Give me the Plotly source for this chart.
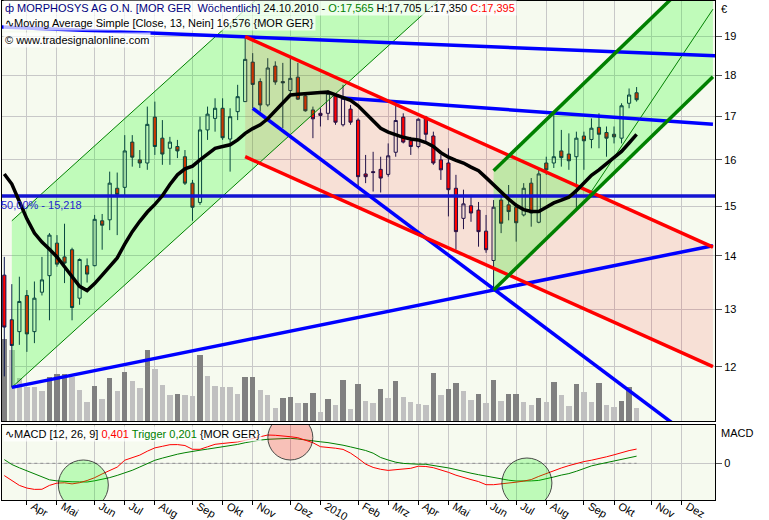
import math
import pandas as pd
import plotly.graph_objects as go

# ---------------- data ----------------
bar_dates = pd.date_range("2009-03-15", periods=85, freq="W-SUN")

opens = [13.63, 12.81, 12.60, 13.25, 12.60, 13.31, 13.62, 14.25, 13.98, 14.12,
         13.20, 13.81, 13.81, 14.70, 14.72, 15.38, 15.40, 16.40, 16.00, 15.93,
         16.98, 16.49, 16.26, 16.30, 16.07, 15.49, 15.08, 16.68, 16.95, 17.19,
         16.47, 17.11, 17.35, 18.33, 17.84, 17.27, 18.23, 17.84, 17.62, 17.95,
         17.49, 17.15, 17.07, 17.07, 17.51, 16.80, 17.17, 16.91, 15.69, 15.74,
         15.79, 15.68, 16.17, 16.98, 16.43, 16.30, 16.98, 16.54, 16.00, 15.93,
         15.38, 14.75, 15.01, 14.92, 14.49, 13.91, 15.13, 15.03, 14.98, 14.82,
         15.49, 14.67, 15.93, 15.93, 16.20, 16.13, 16.07, 16.54, 16.46, 16.74,
         16.62, 16.58, 16.49, 17.31, 17.565]
highs = [13.98, 13.46, 13.60, 13.35, 13.51, 13.98, 14.45, 14.41, 14.64, 14.16,
         13.95, 13.95, 14.82, 14.84, 15.74, 15.72, 16.56, 16.56, 16.22, 17.23,
         17.35, 16.91, 16.52, 16.45, 16.22, 15.56, 16.99, 17.23, 17.43, 17.43,
         17.19, 17.76, 18.99, 18.56, 17.92, 18.43, 18.35, 18.31, 18.43, 18.31,
         17.55, 17.23, 17.19, 17.63, 17.55, 17.76, 17.27, 16.95, 16.11, 16.18,
         16.07, 16.37, 17.27, 17.07, 16.52, 16.95, 17.01, 16.64, 16.11, 16.26,
         15.67, 15.35, 15.24, 15.09, 14.82, 15.13, 15.20, 15.45, 15.07, 15.49,
         15.60, 15.82, 16.07, 17.07, 16.68, 16.60, 16.64, 16.64, 16.95, 17.07,
         16.76, 16.76, 17.31, 17.67, 17.705]
lows = [11.84, 11.66, 12.37, 12.25, 12.40, 13.25, 12.80, 13.79, 13.48, 12.80,
        13.08, 13.49, 13.80, 14.12, 14.51, 14.41, 15.20, 15.85, 15.82, 15.78,
        16.11, 15.89, 15.89, 16.04, 15.45, 14.70, 15.03, 16.45, 16.64, 16.45,
        15.74, 16.91, 17.34, 17.19, 17.11, 17.23, 17.76, 16.72, 17.51, 17.39,
        17.11, 16.49, 16.76, 16.91, 16.80, 16.76, 16.80, 15.41, 15.49, 15.31,
        15.29, 15.63, 16.07, 16.37, 16.11, 16.26, 16.41, 15.89, 15.56, 14.79,
        14.12, 14.53, 14.68, 14.18, 14.06, 13.35, 14.45, 14.71, 14.28, 14.79,
        14.58, 14.65, 15.67, 15.82, 15.85, 15.78, 14.92, 15.78, 16.26, 16.26,
        16.07, 16.37, 16.37, 17.19, 17.35]
closes = [12.68, 12.36, 13.14, 12.56, 13.20, 13.54, 14.41, 13.84, 13.86, 13.03,
          13.93, 13.65, 14.73, 14.61, 15.49, 15.25, 16.20, 16.06, 15.93, 16.81,
          16.30, 16.13, 16.40, 16.20, 15.49, 14.98, 16.68, 17.05, 17.19, 16.50,
          16.99, 17.47, 18.40, 17.77, 17.27, 18.18, 17.83, 17.81, 17.92, 17.41,
          17.13, 16.94, 17.02, 17.55, 16.86, 17.43, 16.86, 15.63, 15.63, 15.72,
          15.60, 16.09, 16.90, 16.40, 16.30, 16.93, 16.58, 15.93, 15.78, 15.35,
          14.48, 15.05, 14.86, 14.48, 14.12, 14.98, 14.65, 14.89, 14.66, 15.38,
          14.86, 15.69, 15.78, 16.07, 16.05, 15.98, 16.49, 16.43, 16.72, 16.58,
          16.49, 16.52, 17.25, 17.51, 17.395]
ma13 = [15.69, 15.47, 15.10, 14.74, 14.45, 14.27, 14.13, 13.98, 13.79, 13.59,
        13.42, 13.34, 13.47, 13.63, 13.80, 13.96, 14.23, 14.48, 14.69, 14.88,
        15.04, 15.22, 15.46, 15.67, 15.80, 15.86, 16.00, 16.13, 16.26, 16.30,
        16.34, 16.45, 16.60, 16.71, 16.80, 16.94, 17.13, 17.32, 17.51, 17.53,
        17.55, 17.55, 17.57, 17.58, 17.52, 17.45, 17.38, 17.25, 17.07, 16.89,
        16.72, 16.63, 16.56, 16.51, 16.47, 16.45, 16.39, 16.30, 16.16, 16.06,
        15.99, 15.93, 15.84, 15.76, 15.61, 15.45, 15.30, 15.15, 15.02, 14.93,
        14.89, 14.89, 14.98, 15.07, 15.13, 15.19, 15.33, 15.49, 15.66, 15.78,
        15.92, 16.06, 16.19, 16.38, 16.576]
volume = [827, 710, 427, 343, 341, 300, 443, 470, 475, 443,
          310, 193, 350, 220, 430, 300, 490, 400, 330, 710,
          520, 360, 260, 270, 260, 250, 660, 450, 350, 340,
          337, 270, 440, 445, 310, 260, 130, 230, 240, 180,
          185, 280, 90, 220, 160, 410, 120, 370, 200, 180,
          320, 230, 400, 240, 190, 170, 160, 480, 260, 320,
          380, 300, 210, 270, 180, 410, 200, 270, 275, 190,
          160, 230, 190, 390, 260, 150, 370, 290, 190, 380,
          160, 140, 200, 340, 130]
macd = [-0.346, -0.495, -0.622, -0.698, -0.735, -0.732, -0.622, -0.558, -0.549, -0.580,
        -0.547, -0.485, -0.406, -0.299, -0.209, -0.107, 0.087, 0.161, 0.231, 0.341,
        0.434, 0.479, 0.524, 0.527, 0.501, 0.394, 0.394, 0.465, 0.535, 0.558,
        0.575, 0.603, 0.648, 0.701, 0.755, 0.797, 0.789, 0.777, 0.749, 0.721,
        0.651, 0.580, 0.468, 0.456, 0.425, 0.392, 0.287, 0.141, -0.023, -0.116,
        -0.169, -0.200, -0.183, -0.161, -0.141, -0.082, -0.090, -0.124, -0.186, -0.254,
        -0.335, -0.408, -0.459, -0.515, -0.603, -0.603, -0.586, -0.563, -0.532, -0.501,
        -0.459, -0.369, -0.287, -0.206, -0.132, -0.065, 0.000, 0.048, 0.087, 0.130,
        0.183, 0.239, 0.301, 0.358, 0.401]
trigger = [0.104, -0.034, -0.127, -0.208, -0.296, -0.389, -0.465, -0.496, -0.515, -0.521,
           -0.524, -0.527, -0.493, -0.454, -0.403, -0.341, -0.270, -0.197, -0.104, -0.006,
           0.085, 0.146, 0.206, 0.256, 0.299, 0.341, 0.369, 0.400, 0.431, 0.454,
           0.490, 0.532, 0.580, 0.625, 0.654, 0.676, 0.687, 0.696, 0.704, 0.685,
           0.665, 0.637, 0.606, 0.583, 0.552, 0.510, 0.462, 0.417, 0.361, 0.285,
           0.163, 0.093, 0.031, -0.003, -0.023, -0.025, -0.028, -0.059, -0.099, -0.130,
           -0.177, -0.237, -0.279, -0.321, -0.363, -0.400, -0.439, -0.476, -0.499, -0.507,
           -0.496, -0.482, -0.442, -0.386, -0.332, -0.290, -0.225, -0.152, -0.073, -0.025,
           0.020, 0.065, 0.104, 0.158, 0.201]

month_ticks = ["2009-04-05", "2009-05-03", "2009-06-07", "2009-07-05", "2009-08-02",
               "2009-09-06", "2009-10-04", "2009-11-01", "2009-12-06", "2010-01-03",
               "2010-02-07", "2010-03-07", "2010-04-04", "2010-05-02", "2010-06-06",
               "2010-07-04", "2010-08-01", "2010-09-05", "2010-10-03", "2010-11-07",
               "2010-12-05"]
month_labels = ["Apr", "Mai", "Jun", "Jul", "Aug", "Sep", "Okt", "Nov", "Dez", "2010",
                "Feb", "Mrz", "Apr", "Mai", "Jun", "Jul", "Aug", "Sep", "Okt", "Nov", "Dez"]
price_ticks = [12, 13, 14, 15, 16, 17, 18, 19]

# drawing objects (anchor dates / prices)
fib_level = 15.218
fib_x = ["2009-03-12", "2011-01-05"]
left_ch_lower_x, left_ch_lower_y = ["2009-03-22", "2010-08-13"], [11.66, 23.26]
left_ch_upper_x, left_ch_upper_y = ["2009-03-22", "2010-03-18"], [14.70, 23.96]
red_ch_upper_x, red_ch_upper_y = ["2009-10-25", "2011-01-03"], [18.99, 14.17]
red_ch_lower_x, red_ch_lower_y = ["2009-10-25", "2011-01-03"], [16.07, 12.00]
right_ch_lower_x, right_ch_lower_y = ["2010-06-13", "2011-01-03"], [13.35, 17.96]
right_ch_upper_x, right_ch_upper_y = ["2010-06-13", "2011-01-03"], [15.76, 21.17]
right_ch_mid_x, right_ch_mid_y = ["2010-09-06", "2011-01-03"], [15.11, 19.73]
blue_top_x, blue_top_y = ["2009-03-12", "2011-01-05"], [19.25, 18.49]
blue_mid_x, blue_mid_y = ["2010-01-24", "2011-01-03"], [17.44, 16.81]
blue_down_x, blue_down_y = ["2009-11-01", "2010-12-22"], [17.19, 10.78]
blue_up_x, blue_up_y = ["2009-03-22", "2011-01-03"], [11.66, 14.20]

signal_x = ["2009-05-27 12:00", "2009-12-06", "2010-07-14"]
signal_y = [-0.611, 0.727, -0.555]
signal_fill = ["rgba(0,255,0,0.32)", "rgba(255,0,0,0.32)", "rgba(0,255,0,0.32)"]
signal_size = [50, 45, 50]

# ---------------- figure ----------------
FONT = "Tahoma, 'Liberation Sans', Arial, sans-serif"
NAVY = "#0A1450"
GRID = "#C8C8C8"
BLUE = "#0000FF"

fig = go.Figure()

vol_colors = ["#808080" if (i == 0 or volume[i] > volume[i - 1]) else "#C0C0C0"
              for i in range(len(volume))]
fig.add_trace(go.Bar(x=bar_dates, y=volume, marker=dict(color=vol_colors, line=dict(width=0)),
                     width=7 * 0.72 * 86400000, xaxis="x", yaxis="y", hoverinfo="skip",
                     showlegend=False))

fig.add_trace(go.Candlestick(
    x=bar_dates, open=opens, high=highs, low=lows, close=closes,
    xaxis="x", yaxis="y3", showlegend=False, whiskerwidth=0,
    increasing=dict(line=dict(color=NAVY, width=1), fillcolor="rgba(0,0,0,0)"),
    decreasing=dict(line=dict(color=NAVY, width=1), fillcolor="#FF0000")))


def poly(xs, ys, color):
    fig.add_trace(go.Scatter(x=xs, y=ys, fill="toself", fillcolor=color, mode="lines",
                             line=dict(width=0), xaxis="x", yaxis="y3", hoverinfo="skip",
                             showlegend=False))


def seg(xs, ys, color, width, dash="solid"):
    fig.add_trace(go.Scatter(x=xs, y=ys, mode="lines", line=dict(color=color, width=width, dash=dash),
                             xaxis="x", yaxis="y3", hoverinfo="skip", showlegend=False))


GFILL = "rgba(0,255,0,0.22)"
RFILL = "rgba(255,0,0,0.10)"
poly([left_ch_lower_x[0], left_ch_upper_x[0], left_ch_upper_x[1], left_ch_lower_x[1]],
     [left_ch_lower_y[0], left_ch_upper_y[0], left_ch_upper_y[1], left_ch_lower_y[1]], GFILL)
poly([red_ch_upper_x[0], red_ch_upper_x[1], red_ch_lower_x[1], red_ch_lower_x[0]],
     [red_ch_upper_y[0], red_ch_upper_y[1], red_ch_lower_y[1], red_ch_lower_y[0]], RFILL)
poly([right_ch_lower_x[0], right_ch_upper_x[0], right_ch_upper_x[1], right_ch_lower_x[1]],
     [right_ch_lower_y[0], right_ch_upper_y[0], right_ch_upper_y[1], right_ch_lower_y[1]], GFILL)

seg(left_ch_lower_x, left_ch_lower_y, "#008000", 1)
seg(left_ch_upper_x, left_ch_upper_y, "#008000", 1)
seg(right_ch_mid_x, right_ch_mid_y, "#008000", 1)
seg(fib_x, [fib_level, fib_level], "#1414D2", 3.5)
seg(blue_top_x, blue_top_y, BLUE, 3.5)
seg(blue_mid_x, blue_mid_y, BLUE, 3.5)
seg(blue_down_x, blue_down_y, BLUE, 3.5)
seg(blue_up_x, blue_up_y, BLUE, 3.5)
seg(red_ch_upper_x, red_ch_upper_y, "#FF0000", 3.5)
seg(red_ch_lower_x, red_ch_lower_y, "#FF0000", 3.5)
seg(right_ch_lower_x, right_ch_lower_y, "#008000", 3.5)
seg(right_ch_upper_x, right_ch_upper_y, "#008000", 3.5)

fig.add_trace(go.Scatter(x=bar_dates, y=ma13, mode="lines", line=dict(color="#000000", width=3.5),
                         xaxis="x", yaxis="y3", hoverinfo="skip", showlegend=False))

# MACD panel
fig.add_trace(go.Scatter(x=[bar_dates[0], bar_dates[-1]], y=[0, 0], mode="lines",
                         line=dict(color="#909090", width=1, dash="dot"),
                         xaxis="x2", yaxis="y2", hoverinfo="skip", showlegend=False))
fig.add_trace(go.Scatter(x=bar_dates, y=trigger, mode="lines", line=dict(color="#008000", width=1),
                         xaxis="x2", yaxis="y2", hoverinfo="skip", showlegend=False))
fig.add_trace(go.Scatter(x=bar_dates, y=macd, mode="lines", line=dict(color="#FF0000", width=1),
                         xaxis="x2", yaxis="y2", hoverinfo="skip", showlegend=False))
fig.add_trace(go.Scatter(x=signal_x, y=signal_y, mode="markers",
                         marker=dict(size=signal_size, color=signal_fill,
                                     line=dict(color="#000000", width=1)),
                         xaxis="x2", yaxis="y2", hoverinfo="skip", showlegend=False))

# ---------------- layout ----------------
W, H = 769, 520
L, R, T, B = 2, 54, 1, 20
ph = H - T - B
main_bottom_px, macd_top_px = 421, 425


def py(px):
    return (H - B - px) / ph


def pxx(px):
    return (px - L) / (W - L - R)


x_range = ["2009-03-12 20:40", "2011-01-04 21:40"]
log_range = [1.04639, 1.30007]

axis_common = dict(showline=True, mirror=True, linecolor="#000000", linewidth=1)

fig.update_layout(
    width=W, height=H, margin=dict(l=L, r=R, t=T, b=B, autoexpand=False),
    paper_bgcolor="#FFFFFF", plot_bgcolor="#F6FAEF",
    font=dict(family=FONT, size=11, color="#000000"),
    boxgap=0.4, bargap=0, showlegend=False,
    xaxis=dict(domain=[0, 1], anchor="y", type="date", range=x_range,
               tickmode="array", tickvals=month_ticks, showticklabels=False, ticks="",
               showgrid=True, gridcolor=GRID, gridwidth=1,
               rangeslider=dict(visible=False), **axis_common),
    xaxis2=dict(domain=[0, 1], anchor="y2", type="date", range=x_range, matches="x",
                tickmode="array", tickvals=month_ticks, ticktext=month_labels,
                ticks="outside", ticklen=4, tickcolor="#000000",
                ticklabelposition="outside right", ticklabelshift=5, ticklabelstandoff=-5,
                tickfont=dict(family=FONT, size=11, color="#000000"),
                showgrid=True, gridcolor=GRID, gridwidth=1,
                rangeslider=dict(visible=False), **axis_common),
    yaxis=dict(domain=[py(main_bottom_px), 1], anchor="x", range=[0, 4210],
               visible=False, fixedrange=True),
    yaxis3=dict(overlaying="y", anchor="x", side="right", type="log", range=log_range,
                tickmode="array", tickvals=price_ticks, ticktext=[str(v) for v in price_ticks],
                ticks="outside", ticklen=6, tickcolor="#555555",
                tickfont=dict(family=FONT, size=11, color="#000000"),
                showgrid=True, gridcolor=GRID, gridwidth=1, zeroline=False, **axis_common),
    yaxis2=dict(domain=[0, py(macd_top_px)], anchor="x2", side="right", range=[-1.034, 1.079],
                tickmode="array", tickvals=[0], ticktext=["0"],
                ticks="outside", ticklen=6, tickcolor="#555555",
                tickfont=dict(family=FONT, size=11, color="#000000"),
                showgrid=True, gridcolor=GRID, gridwidth=1, zeroline=False, **axis_common),
)


def de(v, nd=3):
    return f"{v:.{nd}f}".replace(".", ",")


hdr1 = ('<span style="color:#000080">ф MORPHOSYS AG O.N. [MOR GER\u00a0 Wöchentlich]</span> '
        '24.10.2010 - '
        f'<span style="color:#008000">O:{de(opens[-1])}</span> '
        f'H:{de(highs[-1])} L:{de(lows[-1])} '
        f'<span style="color:#FF0000">C:{de(closes[-1])}</span>')
hdr2 = f"∿Moving Average Simple [Close, 13, Nein] {de(ma13[-1])} {{MOR GER}}"
hdr3 = "© www.tradesignalonline.com"
hdr4 = (f'∿MACD [12, 26, 9] <span style="color:#FF0000">{de(macd[-1])}</span> '
        f'<span style="color:#008000">Trigger {de(trigger[-1])}</span> {{MOR GER}}')

BOX = "rgba(255,255,255,0.72)"
ann = []
for text, top in [(hdr1, 0), (hdr2, 15), (hdr3, 32)]:
    ann.append(dict(xref="paper", yref="paper", x=pxx(3), y=py(top), xanchor="left", yanchor="top",
                    text=text, showarrow=False, bgcolor=BOX, borderpad=1,
                    font=dict(family=FONT, size=11, color="#000000")))
ann.append(dict(xref="paper", yref="paper", x=pxx(3), y=py(macd_top_px + 1), xanchor="left",
                yanchor="top", text=hdr4, showarrow=False, bgcolor=BOX, borderpad=1,
                font=dict(family=FONT, size=11, color="#000000")))
ann.append(dict(xref="paper", yref="y3", x=0, y=math.log10(fib_level), xanchor="left",
                yanchor="top", xshift=-3, yshift=-1,
                text="50,00% - " + de(fib_level), showarrow=False,
                font=dict(family=FONT, size=11, color="#1F1FCF")))
ann.append(dict(xref="paper", yref="paper", x=pxx(719), y=py(9), xanchor="left", yanchor="middle",
                text="€", showarrow=False, font=dict(family=FONT, size=11, color="#000000")))
ann.append(dict(xref="paper", yref="paper", x=pxx(719), y=py(433), xanchor="left", yanchor="middle",
                text="MACD", showarrow=False, font=dict(family=FONT, size=11, color="#000000")))
fig.update_layout(annotations=ann)

fig.write_html("out.html", config={"displayModeBar": False},
               post_script="document.body.style.margin='0px';")
